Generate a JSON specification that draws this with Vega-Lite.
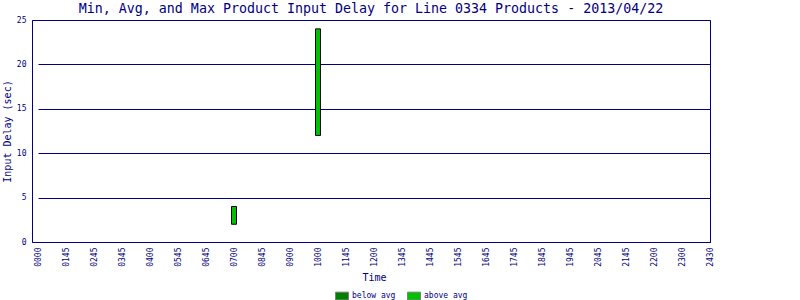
{
  "$schema": "https://vega.github.io/schema/vega-lite/v6.json",
  "autosize": "none",
  "width": 678,
  "height": 222,
  "padding": {"left": 32, "top": 20, "right": 90, "bottom": 58},
  "background": "white",
  "title": {
    "text": "Min, Avg, and Max Product Input Delay for Line 0334 Products - 2013/04/22",
    "font": "DejaVu Sans Mono",
    "fontSize": 13.3,
    "fontWeight": "normal",
    "color": "#000080",
    "offset": 1,
    "anchor": "middle"
  },
  "data": {
    "values": [
      {"time": "0700", "low": 2, "high": 4, "segment": "above avg"},
      {"time": "1000", "low": 12, "high": 24, "segment": "above avg"}
    ]
  },
  "mark": {"type": "bar", "size": 5, "stroke": "black", "strokeWidth": 1},
  "encoding": {
    "x": {
      "field": "time",
      "type": "ordinal",
      "title": "Time",
      "scale": {
        "type": "point",
        "domain": ["0000","0145","0245","0345","0400","0545","0645","0700","0845","0900","1000","1145","1200","1345","1445","1545","1645","1745","1845","1945","2045","2145","2200","2300","2430"],
        "range": [6, 678],
        "padding": 0
      },
      "axis": {
        "labelAngle": -90,
        "labelFont": "DejaVu Sans Mono",
        "labelFontSize": 8,
        "labelColor": "#000080",
        "labelPadding": 5,
        "ticks": false,
        "domainColor": "#000080",
        "titleFont": "DejaVu Sans Mono",
        "titleFontSize": 10,
        "titleFontWeight": "normal",
        "titleColor": "#000080",
        "titlePadding": 6,
        "grid": false
      }
    },
    "y": {
      "field": "low",
      "type": "quantitative",
      "title": "Input Delay (sec)",
      "scale": {"domain": [0, 25], "nice": false},
      "axis": {
        "values": [0, 5, 10, 15, 20, 25],
        "labelFont": "DejaVu Sans Mono",
        "labelFontSize": 8,
        "labelColor": "#000080",
        "labelPadding": 6,
        "ticks": false,
        "domainColor": "#000080",
        "grid": true,
        "gridColor": "#000080",
        "gridOpacity": 1,
        "titleFont": "DejaVu Sans Mono",
        "titleFontSize": 10,
        "titleFontWeight": "normal",
        "titleColor": "#000080",
        "titlePadding": 4
      }
    },
    "y2": {"field": "high"},
    "color": {
      "field": "segment",
      "type": "nominal",
      "scale": {"domain": ["below avg", "above avg"], "range": ["#008000", "#00c000"]},
      "legend": {
        "title": null,
        "orient": "none",
        "direction": "horizontal",
        "legendX": 303,
        "legendY": 269,
        "symbolType": "M-1,-0.6L1,-0.6L1,0.6L-1,0.6Z",
        "symbolSize": 169,
        "symbolStrokeColor": "#808080",
        "symbolStrokeWidth": 1,
        "symbolOpacity": 1,
        "labelFont": "DejaVu Sans Mono",
        "labelFontSize": 8,
        "labelColor": "#000080",
        "labelOffset": 3,
        "columnPadding": 9
      }
    }
  },
  "config": {
    "view": {"stroke": "#000080", "strokeWidth": 1}
  }
}
